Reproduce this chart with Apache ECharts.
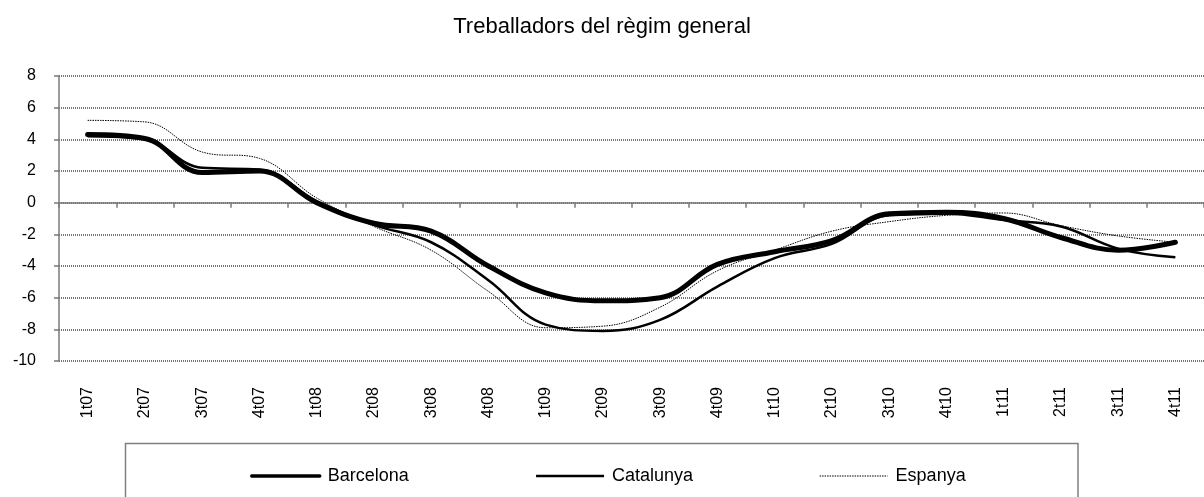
<!DOCTYPE html>
<html>
<head>
<meta charset="utf-8">
<script src="https://cdn.jsdelivr.net/npm/echarts@6/dist/echarts.min.js"></script>
<style>
  html, body { margin: 0; padding: 0; background: #fff; }
  #chart { width: 1204px; height: 497px; }
</style>
</head>
<body>
<div id="chart"></div>
<script>
var categories = ["1t07", "2t07", "3t07", "4t07", "1t08", "2t08", "3t08", "4t08", "1t09", "2t09",
  "3t09", "4t09", "1t10", "2t10", "3t10", "4t10", "1t11", "2t11", "3t11", "4t11"];
var barcelona = [4.3, 4.05, 1.9, 2.0, 0.0, -1.3, -1.8, -4.0, -5.7, -6.2,
  -6.0, -3.9, -3.1, -2.4, -0.7, -0.6, -1.0, -2.2, -3.0, -2.5];
var catalunya = [4.2, 4.0, 2.2, 2.1, 0.1, -1.4, -2.5, -4.9, -7.7, -8.1,
  -7.4, -5.3, -3.5, -2.6, -0.8, -0.7, -1.1, -1.5, -2.9, -3.45];
var espanya = [5.2, 5.1, 3.2, 2.8, 0.3, -1.5, -3.0, -5.6, -7.9, -7.8,
  -6.6, -4.3, -3.0, -1.8, -1.2, -0.8, -0.65, -1.45, -2.1, -2.5];
var yTicks = { min: -10, max: 8, step: 2 };

var font = "Liberation Sans, Arial, sans-serif";
var myChart = echarts.init(document.getElementById("chart"));

var option = {
  backgroundColor: "#fff",
  animation: false,
  title: {
    text: "Treballadors del règim general",
    left: "center",
    top: 11,
    textStyle: { fontFamily: font, fontSize: 22, fontWeight: "normal", color: "#000" }
  },
  legend: {
    left: 245,
    top: 462,
    itemWidth: 68,
    itemHeight: 14,
    itemGap: 126,
    itemStyle: { opacity: 0 },
    textStyle: { fontFamily: font, fontSize: 18, color: "#000", padding: [0, 0, 0, 3] },
    data: [
      { name: "Barcelona", lineStyle: { width: 3.5 } },
      { name: "Catalunya", lineStyle: { width: 2.5 } },
      { name: "Espanya", lineStyle: { width: 1 } }
    ]
  },
  graphic: [{
    type: "rect",
    shape: { x: 125.5, y: 443.5, width: 952.5, height: 80 },
    style: { fill: "none", stroke: "#808080", lineWidth: 1.5 }
  }],
  grid: { left: 59, top: 76, width: 1154, height: 285 },
  xAxis: [
    {
      type: "category",
      data: categories,
      position: "bottom",
      axisLine: { show: false, onZero: false },
      axisTick: { show: false },
      axisLabel: { rotate: 90, margin: 26, fontFamily: font, fontSize: 16, color: "#000" }
    },
    {
      type: "category",
      data: categories,
      position: "bottom",
      axisLine: { show: true, onZero: true, lineStyle: { color: "#7a7a7a", width: 1.5 } },
      axisTick: { show: true, length: 5, lineStyle: { color: "#7a7a7a", width: 1.5 } },
      axisLabel: { show: false }
    }
  ],
  yAxis: {
    type: "value",
    min: yTicks.min,
    max: yTicks.max,
    interval: yTicks.step,
    axisLine: { show: true, lineStyle: { color: "#7a7a7a", width: 1.5 } },
    axisTick: { show: true, length: 5, lineStyle: { color: "#7a7a7a", width: 1.5 } },
    axisLabel: { margin: 23, fontFamily: font, fontSize: 16, color: "#000" },
    splitLine: { show: true, lineStyle: { color: "#777", width: 2, type: [1, 1] } }
  },
  series: [
    {
      name: "Barcelona",
      type: "line",
      data: barcelona,
      smooth: 0.4,
      symbol: "none",
      lineStyle: { color: "#000", width: 5, cap: "round" },
      itemStyle: { color: "#000" },
      z: 4
    },
    {
      name: "Catalunya",
      type: "line",
      data: catalunya,
      smooth: 0.4,
      symbol: "none",
      lineStyle: { color: "#000", width: 2.5 },
      itemStyle: { color: "#000" },
      z: 3
    },
    {
      name: "Espanya",
      type: "line",
      data: espanya,
      smooth: 0.4,
      symbol: "none",
      lineStyle: { color: "#000", width: 1, type: [1.5, 1] },
      itemStyle: { color: "#000" },
      z: 2
    }
  ]
};
option && myChart.setOption(option);
</script>
</body>
</html>
